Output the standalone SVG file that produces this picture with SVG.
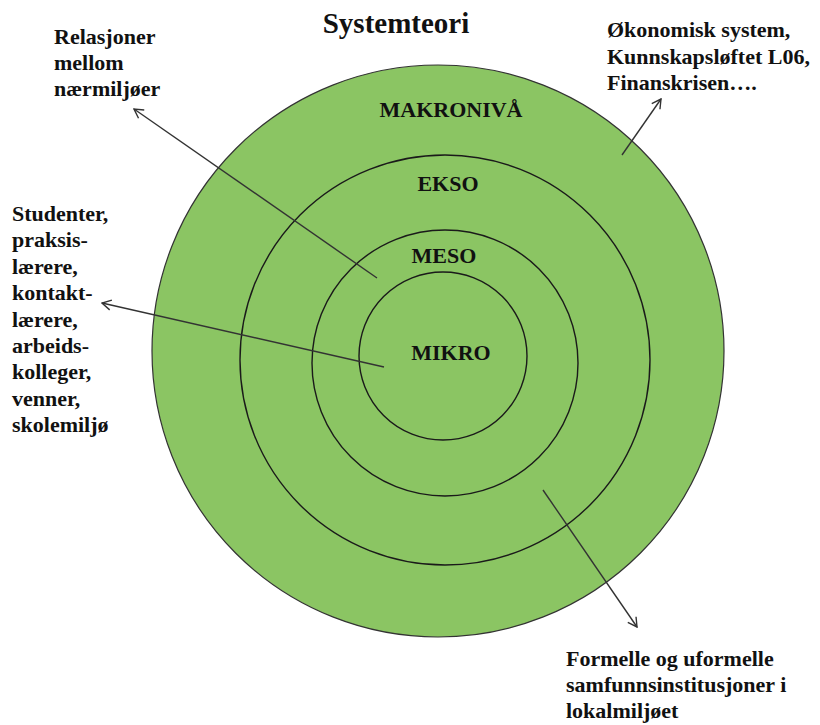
<svg xmlns="http://www.w3.org/2000/svg" width="820" height="725" viewBox="0 0 820 725">
  <style>
    .t { font-family: "Liberation Serif", "Times New Roman", serif; font-weight: bold; fill: #111; }
    .lbl { font-size: 22px; }
    .lvl { font-size: 22px; text-anchor: middle; }
    .ring { fill: none; stroke: #1a1a1a; stroke-width: 1.4; }
    .conn { stroke: #333; stroke-width: 1.4; fill: none; marker-end: url(#arr); }
  </style>
  <defs>
    <marker id="arr" viewBox="0 0 12 12" refX="11" refY="6" markerWidth="12" markerHeight="12" markerUnits="userSpaceOnUse" orient="auto">
      <path d="M2,1 L11,6 L2,11" fill="none" stroke="#333" stroke-width="1.4"/>
    </marker>
  </defs>
  <rect width="820" height="725" fill="#ffffff"/>

  <g id="title">
    <text class="t" x="396" y="33" font-size="29" text-anchor="middle">Systemteori</text>
  </g>

  <g id="makro">
    <circle cx="438" cy="351" r="286" fill="#8BC563" stroke="#333" stroke-width="1.2"/>
    <text class="t lvl" x="451" y="117">MAKRONIVÅ</text>
  </g>
  <g id="ekso">
    <circle class="ring" cx="445" cy="360" r="205"/>
    <text class="t lvl" x="448" y="191">EKSO</text>
  </g>
  <g id="meso">
    <circle class="ring" cx="445" cy="363" r="133"/>
    <text class="t lvl" x="444" y="263">MESO</text>
  </g>
  <g id="mikro">
    <circle class="ring" cx="443" cy="356" r="84"/>
    <text class="t lvl" x="451" y="360">MIKRO</text>
  </g>

  <g id="connectors">
    <line class="conn" x1="377" y1="278" x2="134" y2="109"/>
    <line class="conn" x1="384" y1="367" x2="102" y2="303"/>
    <line class="conn" x1="622" y1="155" x2="661" y2="99"/>
    <line class="conn" x1="543" y1="490" x2="637" y2="627"/>
  </g>

  <g id="label-relasjoner">
    <text class="t lbl" x="54" y="44">Relasjoner</text>
    <text class="t lbl" x="54" y="70">mellom</text>
    <text class="t lbl" x="54" y="96">nærmiljøer</text>
  </g>
  <g id="label-okonomisk">
    <text class="t lbl" x="607" y="37">Økonomisk system,</text>
    <text class="t lbl" x="607" y="63.5">Kunnskapsløftet L06,</text>
    <text class="t lbl" x="607" y="90">Finanskrisen….</text>
  </g>
  <g id="label-studenter">
    <text class="t lbl" x="12" y="221">Studenter,</text>
    <text class="t lbl" x="12" y="247.4">praksis-</text>
    <text class="t lbl" x="12" y="273.8">lærere,</text>
    <text class="t lbl" x="12" y="300.2">kontakt-</text>
    <text class="t lbl" x="12" y="326.6">lærere,</text>
    <text class="t lbl" x="12" y="353">arbeids-</text>
    <text class="t lbl" x="12" y="379.4">kolleger,</text>
    <text class="t lbl" x="12" y="405.8">venner,</text>
    <text class="t lbl" x="12" y="432.2">skolemiljø</text>
  </g>
  <g id="label-formelle">
    <text class="t lbl" x="566" y="666">Formelle og uformelle</text>
    <text class="t lbl" x="566" y="692">samfunnsinstitusjoner i</text>
    <text class="t lbl" x="566" y="718">lokalmiljøet</text>
  </g>
</svg>
